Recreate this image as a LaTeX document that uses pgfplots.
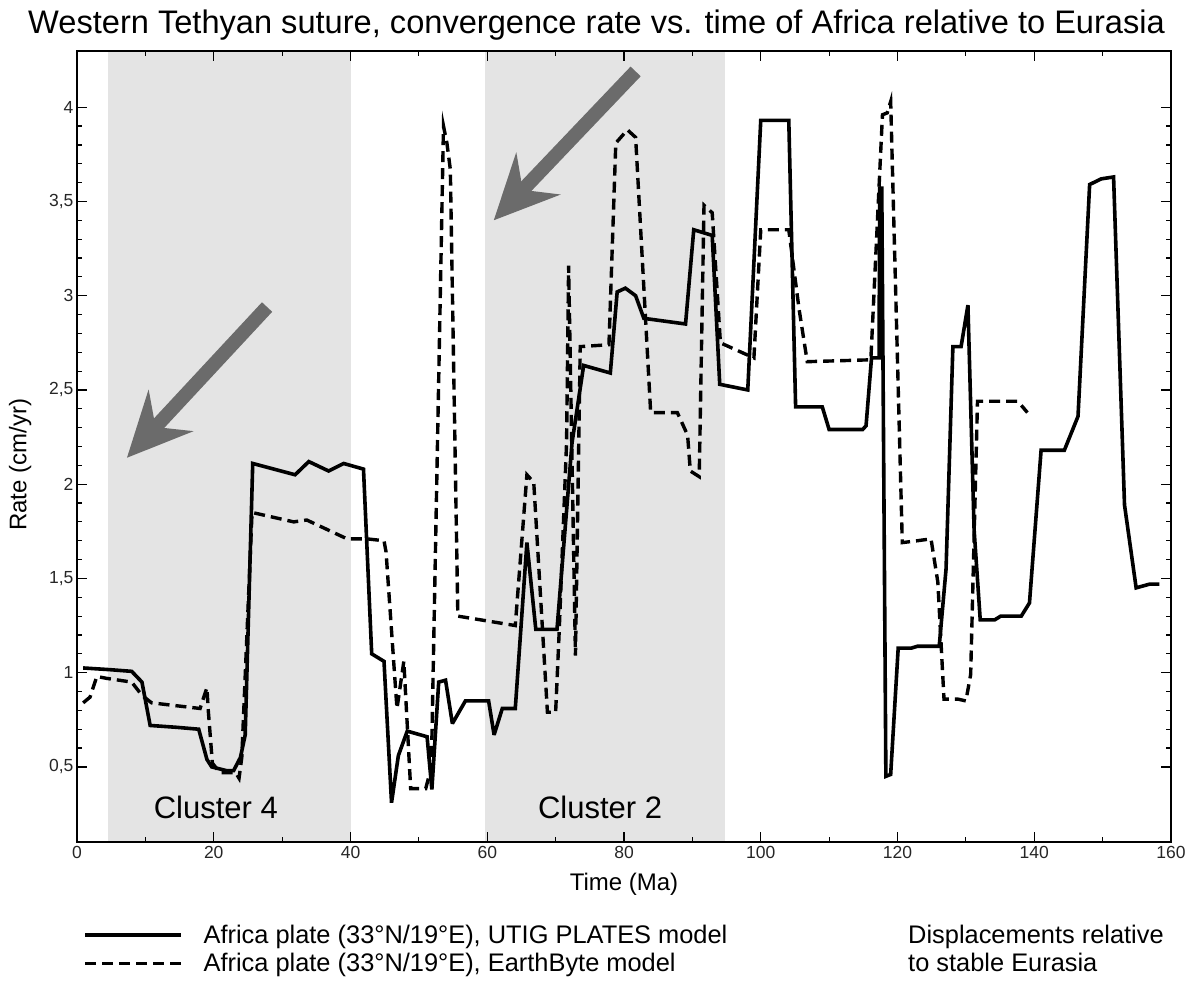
\documentclass[border=0pt]{standalone}
\usepackage{pgfplots}
\pgfplotsset{compat=1.18}
\usepackage{fontspec}
\setmainfont{Liberation Sans}
\usetikzlibrary{arrows.meta}
\definecolor{bandgray}{HTML}{E4E4E4}
\definecolor{arrowgray}{HTML}{6B6B6B}

\pgfplotstableread{
x y
0.9 1.025
4.8 1.016
8.0 1.007
9.5 0.95
10.7 0.72
14.6 0.71
17.8 0.70
19.0 0.54
19.7 0.50
21.9 0.48
22.9 0.48
23.9 0.55
24.6 0.67
25.7 2.11
31.9 2.05
33.9 2.12
36.8 2.07
39.0 2.11
41.9 2.08
43.1 1.10
44.9 1.06
46.0 0.31
47.0 0.56
48.3 0.69
51.2 0.66
51.9 0.38
52.9 0.95
53.9 0.96
54.9 0.73
56.8 0.85
60.2 0.85
61.0 0.67
62.2 0.81
64.1 0.81
65.8 1.69
67.1 1.23
70.2 1.23
72.4 2.22
74.1 2.63
78.0 2.59
79.0 3.02
80.2 3.04
81.7 3.00
82.9 2.88
89.0 2.85
90.2 3.35
92.9 3.32
94.0 2.53
98.1 2.50
100.0 3.93
104.1 3.93
105.1 2.41
109.0 2.41
110.0 2.29
114.9 2.29
115.4 2.31
116.2 2.67
117.3 2.67
117.4 3.57
117.7 3.57
118.3 0.45
119.0 0.46
120.1 1.13
122.0 1.13
122.9 1.14
126.1 1.14
127.1 1.55
128.1 2.73
129.3 2.73
130.3 2.95
131.2 1.76
132.1 1.28
134.2 1.28
135.1 1.30
138.1 1.30
139.3 1.37
141.0 2.18
144.4 2.18
146.4 2.36
148.1 3.59
149.8 3.62
151.6 3.63
153.2 1.89
154.9 1.45
156.9 1.47
158.3 1.47
}\utig

\pgfplotstableread{
x y
0.9 0.84
1.9 0.87
2.9 0.98
4.3 0.97
8.0 0.95
9.5 0.88
10.9 0.84
18.0 0.81
19.0 0.92
19.2 0.80
19.8 0.52
20.9 0.47
23.2 0.47
23.7 0.44
24.1 0.55
25.6 1.85
31.7 1.80
33.6 1.81
39.5 1.71
42.4 1.71
44.9 1.70
45.2 1.64
46.6 0.91
46.8 0.81
47.8 1.06
48.8 0.385
51.0 0.385
51.4 0.44
51.8 0.45
53.6 3.90
54.1 3.81
54.6 3.67
55.7 1.30
64.1 1.25
65.8 2.05
66.8 2.01
68.8 0.79
70.0 0.79
70.5 1.20
71.6 2.22
71.9 3.16
72.9 1.09
73.6 2.73
77.8 2.74
78.8 3.81
80.5 3.88
81.7 3.84
83.9 2.38
87.8 2.38
89.3 2.26
89.7 2.07
91.0 2.04
91.7 3.48
92.9 3.44
94.1 2.75
99.0 2.67
100.0 3.35
104.1 3.35
105.6 2.93
106.8 2.65
116.1 2.66
117.8 3.96
118.5 3.97
119.0 4.03
120.7 1.69
122.9 1.70
124.9 1.71
125.9 1.48
126.8 0.86
128.8 0.86
130.0 0.85
130.7 0.99
131.7 2.44
137.6 2.44
139.0 2.38
}\earthbyte

\begin{document}
\begin{tikzpicture}
\useasboundingbox (0pt,0pt) rectangle (1196pt,983pt);
\node[anchor=base west, inner sep=0pt, font=\fontsize{32.6}{38}\selectfont] at (28pt,949.7pt)
  {Western Tethyan suture, convergence rate vs. time of Africa relative to Eurasia};
\begin{axis}[
  at={(77pt,140.7pt)}, anchor=south west,
  scale only axis, width=1094pt, height=791.6pt,
  xmin=0, xmax=160, ymin=0.1, ymax=4.3,
  axis on top,
  xtick={0,20,...,160}, minor x tick num=1,
  ytick={0.5,1,1.5,2,2.5,3,3.5,4}, minor y tick num=4,
  tick align=inside,
  major tick length=10pt, minor tick length=5pt,
  tick style={black, line width=1.2pt},
  axis line style={line width=1.8pt},
  ticklabel style={font=\fontsize{17.5}{20}\selectfont, text=black!85},
  /pgf/number format/assume math mode=true,
  yticklabel style={/pgf/number format/.cd, use comma, fixed},
  xticklabel style={/pgf/number format/.cd, fixed},
  xlabel={Time (Ma)}, ylabel={Rate (cm/yr)},
  label style={font=\fontsize{24}{28}\selectfont},
  xlabel style={at={(axis description cs:0.5,-0.053)}, anchor=center},
  ylabel style={at={(axis description cs:-0.052,0.477)}, anchor=center, rotate=0},
  legend style={at={(axis description cs:0.00576,-0.1036)}, anchor=north west,
    draw=none, fill=none, inner sep=0pt, outer sep=0pt,
    font=\fontsize{25.4}{30}\selectfont,
    nodes={inner sep=0pt, text height=19pt, text depth=6pt},
    row sep=3.4pt, column sep=20.7pt},
  legend cell align=left,
  legend image code/.code={\draw[#1] (0pt,1.6pt) -- (96pt,1.6pt);},
]
\fill[bandgray] (axis cs:4.6,0.1) rectangle (axis cs:40,4.3);
\fill[bandgray] (axis cs:59.7,0.1) rectangle (axis cs:94.8,4.3);
\addplot[black, line width=3.6pt, line join=miter, miter limit=2] table[x=x,y=y] {\utig};
\addlegendentry{Africa plate (33°N/19°E), UTIG PLATES model}
\addplot[black, line width=3.4pt, dash pattern=on 11pt off 6pt] table[x=x,y=y] {\earthbyte};
\addlegendentry{Africa plate (33°N/19°E), EarthByte model}
\draw[arrowgray, line width=14pt, -{Stealth[length=64pt,width=60pt,inset=22pt]}] (axis cs:27.8,2.94) -- (axis cs:7.3,2.14);
\draw[arrowgray, line width=14pt, -{Stealth[length=64pt,width=60pt,inset=22pt]}] (axis cs:81.7,4.19) -- (axis cs:60.95,3.40);
\node[anchor=base, font=\fontsize{31}{36}\selectfont] at (axis cs:20.3,0.226) {Cluster 4};
\node[anchor=base, font=\fontsize{31}{36}\selectfont] at (axis cs:76.5,0.226) {Cluster 2};
\end{axis}
\node[anchor=base west, inner sep=0pt, font=\fontsize{25.4}{30}\selectfont] at (908pt,39.7pt) {Displacements relative};
\node[anchor=base west, inner sep=0pt, font=\fontsize{25.4}{30}\selectfont] at (908pt,11.3pt) {to stable Eurasia};
\end{tikzpicture}
\end{document}
